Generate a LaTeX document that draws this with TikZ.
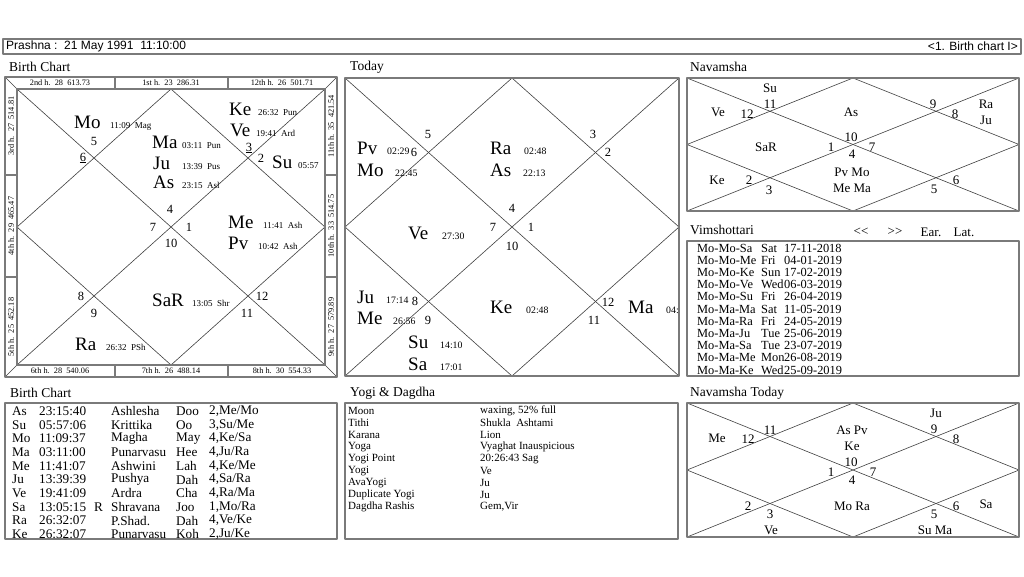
\documentclass[tikz,border=0pt]{standalone}
\usepackage{fontspec}
\setmainfont{Liberation Serif}
\newfontfamily\barfont{Liberation Sans}
\definecolor{cframe}{HTML}{7a7a7a}
\definecolor{cline}{HTML}{404040}

\begin{document}
\begin{tikzpicture}[x=1pt, y=-1pt, line cap=round, line join=round,
  pl/.style={font=\fontsize{19}{19}\selectfont, inner sep=0pt, anchor=base west},
  dg/.style={font=\fontsize{9}{9}\selectfont, inner sep=0pt, anchor=base west},
  dgt/.style={font=\fontsize{9.8}{9.8}\selectfont, inner sep=0pt, anchor=base west},
  hn/.style={font=\fontsize{12.5}{12.5}\selectfont, inner sep=0pt},
  nv/.style={font=\fontsize{13}{13}\selectfont, inner sep=0pt},
  hl/.style={font=\fontsize{8.3}{8.3}\selectfont, inner sep=0pt},
  ttl/.style={font=\fontsize{13.5}{13.5}\selectfont, inner sep=0pt, anchor=west},
  row/.style={inner sep=0pt, anchor=west},
  bar/.style={font=\barfont\fontsize{12}{12}\selectfont, inner sep=0pt},
  frm/.style={cframe, line width=2pt},
  box/.style={cframe, line width=1.1pt},
  gl/.style={cline, line width=0.6pt}]
  \fill[white] (0,0) rectangle (1024,576);
  \useasboundingbox (0,0) rectangle (1024,576);

  % ---------- header bar ----------
  \draw[box] (3,39) rectangle (1021,54);
  \node[bar, anchor=west] (head) at (6,46.5) {Prashna :\ \ 21 May 1991\ \ 11:10:00};
  \node[bar, anchor=east] (page) at (1018,46.5) {<1. Birth chart I>};

  % ---------- birth chart ----------
  \node[ttl] (tbirth) at (9,67) {Birth Chart};
  \draw[gl] (17,89) -- (325,365);
  \draw[gl] (325,89) -- (17,365);
  \draw[gl] (171,89) -- (325,227) -- (171,365) -- (17,227) -- cycle;
  \foreach \x/\y/\u/\v in {5/77/17/89, 337/77/325/89, 5/377/17/365, 337/377/325/365}
    \draw[gl] (\x,\y) -- (\u,\v);
  \foreach \x in {115,228} {
    \draw[box] (\x,77) -- (\x,89);
    \draw[box] (\x,365) -- (\x,377);
  }
  \foreach \y in {175,277} {
    \draw[box] (5,\y) -- (17,\y);
    \draw[box] (325,\y) -- (337,\y);
  }
  \draw[frm] (5,77) rectangle (337,377);
  \draw[frm] (17,89) rectangle (325,365);
  % house strips
  \foreach \t/\x [count=\i] in {2nd h.\ \ 28\ \ 613.73/60, 1st h.\ \ 23\ \ 286.31/171,
      12th h.\ \ 26\ \ 501.71/282}
    \node[hl] (top\i) at (\x,83) {\t};
  \foreach \t/\x [count=\i] in {6th h.\ \ 28\ \ 540.06/60, 7th h.\ \ 26\ \ 488.14/171,
      8th h.\ \ 30\ \ 554.33/282}
    \node[hl] (bot\i) at (\x,371) {\t};
  \foreach \t/\y [count=\i] in {3rd h.\ \ 27\ \ 514.81/126, 4th h.\ \ 29\ \ 465.47/226,
      5th h.\ \ 25\ \ 452.18/327}
    \node[hl, rotate=90] (lft\i) at (11,\y) {\t};
  \foreach \t/\y [count=\i] in {11th h.\ \ 35\ \ 421.54/126, 10th h.\ \ 33\ \ 514.75/226,
      9th h.\ \ 27\ \ 579.89/327}
    \node[hl, rotate=90] (rgt\i) at (331,\y) {\t};
  % planets
  \begin{scope}
    \clip (17,89) rectangle (325,365);
    \foreach \p/\x/\y/\dx/\d in {Mo/74/128/110/{11:09\ \ Mag}, Ma/152/148/182/{03:11\ \ Pun},
        Ju/153/169/182/{13:39\ \ Pus}, As/153/188/182/{23:15\ \ Asl}, Ke/229/115/258/{26:32\ \ Pun},
        Ve/230/136/256/{19:41\ \ Ard}, Su/272/168/298/{05:57}, Me/228/228/263/{11:41\ \ Ash},
        Pv/228/249/258/{10:42\ \ Ash}, SaR/152/306/192/{13:05\ \ Shr}, Ra/75/350/106/{26:32\ \ PSh}}
    {
      \node[pl] (b\p) at (\x,\y) {\p};
      \node[dg] (bd\p) at (\dx,\y) {\d};
    }
  \end{scope}
  \foreach \t/\x/\y [count=\i] in {5/94/141, {\underline{6}}/83/158, {\underline{3}}/249/148,
      2/261/158, 4/170/209, 7/153/227, 1/189/227, 10/171/243, 8/81/296, 9/94/313,
      12/262/296, 11/247/313}
    \node[hn] (bh\i) at (\x,\y) {\t};

  % ---------- today ----------
  \node[ttl] (ttoday) at (350,67) {Today};
  \draw[gl] (345,78) -- (679,376);
  \draw[gl] (679,78) -- (345,376);
  \draw[gl] (512,78) -- (679,227) -- (512,376) -- (345,227) -- cycle;
  \draw[frm] (345,78) rectangle (679,376);
  \begin{scope}
    \clip (345,78) rectangle (678,376);
    \foreach \p/\x/\y/\dx/\d in {Pv/357/154/387/02:29, Mo/357/176/395/22:45, Ra/490/154/524/02:48,
        As/490/176/523/22:13, Ve/408/239/442/27:30, Ju/357/303/386/17:14, Me/357/324/393/26:56,
        Su/408/348/440/14:10, Sa/408/370/440/17:01, Ke/490/313/526/02:48, Ma/628/313/666/04:}
    {
      \node[pl] (t\p) at (\x,\y) {\p};
      \node[dgt] (td\p) at (\dx,\y) {\d};
    }
  \end{scope}
  \foreach \t/\x/\y [count=\i] in {5/428/134, 6/414/152, 3/593/134, 2/608/152, 4/512/208,
      7/493/227, 1/531/227, 10/512/246, 8/415/301, 9/428/320, 12/608/302, 11/594/320}
    \node[hn] (th\i) at (\x,\y) {\t};

  % ---------- navamsha ----------
  \node[ttl] (tnav) at (690,67) {Navamsha};
  \draw[gl] (687,78) -- (1019,211);
  \draw[gl] (1019,78) -- (687,211);
  \draw[gl] (853,78) -- (1019,144.5) -- (853,211) -- (687,144.5) -- cycle;
  \draw[frm] (687,78) rectangle (1019,211);
  \foreach \t/\x/\y [count=\i] in {Su/770/88, 11/770/104, Ve/718/112, 12/747/114, As/851/112,
      9/933/104, 8/955/114, Ra/986/104, Ju/986/120, SaR/766/147, 10/851/137, 1/831/147,
      7/872/147, 4/852/154, Pv Mo/852/172, Me Ma/852/188, Ke/717/180, 2/749/180, 3/769/190,
      5/934/189, 6/956/180}
    \node[nv] (n\i) at (\x,\y) {\t};

  % ---------- vimshottari ----------
  \node[ttl] (tvim) at (690,230) {Vimshottari};
  \node[nv] (back) at (861,232) {<\kern0pt<};
  \node[nv] (fwd) at (895,232) {>\kern0pt>};
  \node[nv] (ear) at (931,232) {Ear.};
  \node[nv] (lat) at (964,232) {Lat.};
  \draw[box] (687,241) rectangle (1019,376);
  \foreach \a/\b/\c [count=\i] in {Mo-Mo-Sa/Sat/17-11-2018, Mo-Mo-Me/Fri/04-01-2019,
      Mo-Mo-Ke/Sun/17-02-2019, Mo-Mo-Ve/Wed/06-03-2019, Mo-Mo-Su/Fri/26-04-2019,
      Mo-Ma-Ma/Sat/11-05-2019, Mo-Ma-Ra/Fri/24-05-2019, Mo-Ma-Ju/Tue/25-06-2019,
      Mo-Ma-Sa/Tue/23-07-2019, Mo-Ma-Me/Mon/26-08-2019, Mo-Ma-Ke/Wed/25-09-2019}
  {
    \node[row, font=\fontsize{12.4}{12.4}\selectfont] (va\i) at (697,248+12.2*\i-12.2) {\a};
    \node[row, font=\fontsize{12.4}{12.4}\selectfont] (vb\i) at (761,248+12.2*\i-12.2) {\b};
    \node[row, font=\fontsize{12.4}{12.4}\selectfont] (vc\i) at (784,248+12.2*\i-12.2) {\c};
  }

  % ---------- birth chart table ----------
  \node[ttl] (ttab) at (10,393) {Birth Chart};
  \draw[box] (5,403) rectangle (337,539);
  \foreach \a/\b/\c/\d/\e/\f [count=\i] in {As/23:15:40/{}/Ashlesha/Doo/{2,Me/Mo},
      Su/05:57:06/{}/Krittika/Oo/{3,Su/Me}, Mo/11:09:37/{}/Magha/May/{4,Ke/Sa},
      Ma/03:11:00/{}/Punarvasu/Hee/{4,Ju/Ra}, Me/11:41:07/{}/Ashwini/Lah/{4,Ke/Me},
      Ju/13:39:39/{}/Pushya/Dah/{4,Sa/Ra}, Ve/19:41:09/{}/Ardra/Cha/{4,Ra/Ma},
      Sa/13:05:15/R/Shravana/Joo/{1,Mo/Ra}, Ra/26:32:07/{}/P.Shad./Dah/{4,Ve/Ke},
      Ke/26:32:07/{}/Punarvasu/Koh/{2,Ju/Ke}}
  {
    \begin{scope}[every node/.style={row, font=\fontsize{13.2}{13.2}\selectfont}]
      \node (ra\i) at (12,411+13.7*\i-13.7) {\a};
      \node (rb\i) at (39,411+13.7*\i-13.7) {\b};
      \node (rc\i) at (94,411+13.7*\i-13.7) {\c};
      \node (rd\i) at (111,411+13.7*\i-13.7) {\d};
      \node (re\i) at (176,411+13.7*\i-13.7) {\e};
      \node (rf\i) at (209,411+13.7*\i-13.7) {\f};
    \end{scope}
  }

  % ---------- yogi & dagdha ----------
  \node[ttl] (tyogi) at (350,393) {Yogi \& Dagdha};
  \draw[box] (345,403) rectangle (678,539);
  \foreach \a/\b [count=\i] in {Moon/{waxing, 52\% full}, Tithi/{Shukla\ \ Ashtami},
      Karana/Lion, Yoga/{Vyaghat Inauspicious}, {Yogi Point}/{20:26:43 Sag}, Yogi/Ve,
      AvaYogi/Ju, {Duplicate Yogi}/Ju, {Dagdha Rashis}/{Gem,Vir}}
  {
    \node[row, font=\fontsize{11}{11}\selectfont] (ya\i) at (348,411+12*\i-12) {\a};
    \node[row, font=\fontsize{11}{11}\selectfont] (yb\i) at (480,411+12*\i-12) {\b};
  }

  % ---------- navamsha today ----------
  \node[ttl] (tnt) at (690,393) {Navamsha Today};
  \draw[gl] (687,403) -- (1019,537);
  \draw[gl] (1019,403) -- (687,537);
  \draw[gl] (853,403) -- (1019,470) -- (853,537) -- (687,470) -- cycle;
  \draw[frm] (687,403) rectangle (1019,537);
  \foreach \t/\x/\y [count=\i] in {Ju/936/413, Me/717/438, 12/748/439, 11/770/430,
      As Pv/852/430, Ke/852/446, 9/934/429, 8/956/439, 10/851/462, 1/831/472, 7/873/472,
      4/852/480, 2/748/506, 3/770/514, Ve/771/530, Mo Ra/852/506, 5/934/514, 6/956/506,
      Sa/986/504, Su Ma/935/530}
    \node[nv] (m\i) at (\x,\y) {\t};
\end{tikzpicture}
\end{document}
